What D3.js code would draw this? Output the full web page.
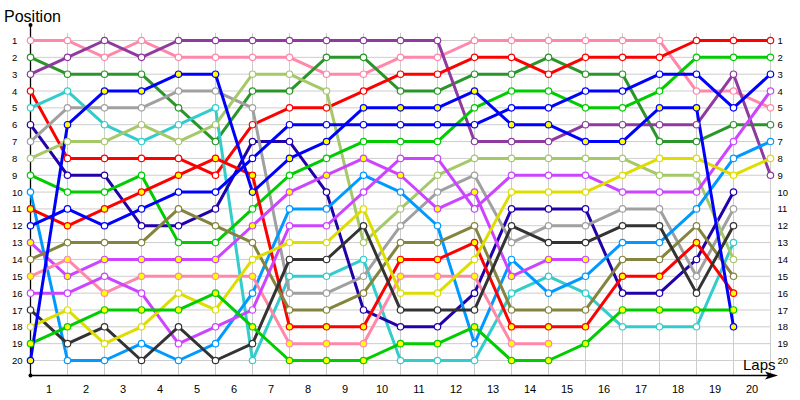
<!DOCTYPE html>
<html>
<head>
<meta charset="utf-8">
<script src="https://cdn.jsdelivr.net/npm/d3@7"></script>
<style>
  body { margin: 0; background: #fff; }
  svg { display: block; font-family: "Liberation Sans", Arial, sans-serif; }
</style>
</head>
<body>
<div id="chart"></div>
<script>
// positions lap by lap, index 0 = starting grid
const car01 = [1,1,2,1,2,2,2,2,3,3,2,2,1,1,1,1,1,1,4,4,5];
const car02 = [2,3,3,3,5,7,4,4,2,2,4,4,3,3,2,3,3,7,7,6,6];
const car03 = [3,2,1,2,1,1,1,1,1,1,1,1,7,7,7,6,6,6,6,3,9];
const car04 = [4,8,8,8,8,9,6,5,5,4,3,3,2,2,3,2,2,2,1,1,1];
const car05 = [5,4,6,7,6,5,20,15,15,14,20,20,20,16,15,16,18,18,18,13];
const car06 = [6,9,9,12,12,11,7,7,10,17,18,18,16,11,11,11,16,16,14,10];
const car07 = [7,5,5,5,4,4,5,16,16,15,12,10,9,13,12,12,11,11,15,11];
const car08 = [8,7,7,6,7,6,3,3,4,13,11,9,8,8,8,8,8,9,9,14];
const car09 = [9,10,10,9,13,13,11,9,8,7,7,7,5,4,4,5,5,4,2,2,2];
const car10 = [10,20,20,19,20,19,16,11,11,9,10,12,19,14,16,15,13,13,11,8,7];
const car11 = [11,12,11,10,9,8,9,18,18,18,14,14,13,18,18,18,15,15,13,16];
const car12 = [12,11,12,11,10,10,8,6,6,6,6,6,6,5,5,4,4,3,3,5,3];
const car13 = [13,15,14,14,14,14,12,10,9,8,9,11,10,15,14,14];
const car14 = [14,13,13,13,11,12,13,17,17,16,13,13,12,17,17,17,14,14,12,15];
const car15 = [15,14,16,15,15,15,15,19,19,19,15,15,15,19,19];
const car16 = [16,16,15,16,19,18,17,12,12,10,8,8,11,9,9,9,10,10,10,7,4];
const car17 = [17,19,18,20,18,20,19,14,14,12,17,17,17,12,13,13,12,12,16,12];
const car18 = [18,17,19,18,16,17,14,13,13,11,16,16,14,10,10,10,9,8,8,9,8];
const car19 = [19,18,17,17,17,16,18,20,20,20,19,19,18,20,20,19,17,17,17,17];
const car20 = [20,6,4,4,3,3,10,8,7,5,5,5,4,6,6,7,7,5,5,18];

const lapLabels = [1,2,3,4,5,6,7,8,9,10,11,12,13,14,15,16,17,18,19,20];
const positions = [1,2,3,4,5,6,7,8,9,10,11,12,13,14,15,16,17,18,19,20];

const cars = [car01, car02, car03, car04, car05, car06, car07, car08, car09, car10,
              car11, car12, car13, car14, car15, car16, car17, car18, car19, car20];

// team colours, second cars of some teams get yellow markers
const carColors = ["#ff88aa", "#2a962a", "#8e3a9e", "#ff0000", "#33cccc",
                   "#2200aa", "#a0a0a0", "#a5c869", "#00cc00", "#0099ff",
                   "#ff0000", "#0000ff", "#cc44ff", "#84843e", "#ff88aa",
                   "#cc44ff", "#333333", "#dddd00", "#00cc00", "#0000ff"];
const carMarker = ["#fff", "#fff", "#fff", "#fff", "#fff",
                   "#fff", "#fff", "#fff", "#fff", "#fff",
                   "#ffff00", "#fff", "#ffff00", "#fff", "#ffff00",
                   "#fff", "#fff", "#fff", "#ffff00", "#ffff00"];

const width = 800, height = 400;

const svg = d3.select("#chart")
    .append("svg")
    .attr("width", width)
    .attr("height", height);

const x = d3.scaleLinear().domain([0, 20]).range([30.5, 770.5]);
const y = d3.scaleLinear().domain([1, 20]).range([40.5, 360.5]);
const xBand = d3.scaleBand().domain(lapLabels).range([30.5, 770.5]);

// grid
svg.append("g")
    .selectAll("line")
    .data(positions)
    .join("line")
    .attr("x1", x(0)).attr("x2", x(20))
    .attr("y1", d => y(d)).attr("y2", d => y(d))
    .attr("stroke", "#cdcdcd");

svg.append("g")
    .selectAll("line")
    .data(lapLabels)
    .join("line")
    .attr("x1", d => x(d)).attr("x2", d => x(d))
    .attr("y1", 33).attr("y2", 375)
    .attr("stroke", "#cdcdcd");

// axis lines
svg.append("line")
    .attr("x1", 30.5).attr("x2", 30.5)
    .attr("y1", 25).attr("y2", 375.5)
    .attr("stroke", "#000").attr("stroke-width", 1.3);
svg.append("line")
    .attr("x1", 30.5).attr("x2", 768)
    .attr("y1", 375.5).attr("y2", 375.5)
    .attr("stroke", "#000").attr("stroke-width", 1.3);
svg.append("path")
    .attr("d", "M765,371.5 L778,375.5 L765,379.5 L768,375.5 Z")
    .attr("fill", "#000");
svg.append("circle").attr("cx", 30.5).attr("cy", 25).attr("r", 2).attr("fill", "#000");
svg.append("circle").attr("cx", 30.5).attr("cy", 375.5).attr("r", 2).attr("fill", "#000");

// tick labels
const leftAxis = svg.append("g")
    .attr("transform", "translate(30.5,0)")
    .call(d3.axisLeft(y).tickValues(positions).tickSize(0).tickFormat(d3.format("d")));
leftAxis.select(".domain").remove();
leftAxis.selectAll("text")
    .attr("x", -18.5)
    .attr("text-anchor", "start")
    .attr("font-size", 9.5)
    .attr("fill", "#000");

const rightAxis = svg.append("g")
    .attr("transform", "translate(770.5,0)")
    .call(d3.axisRight(y).tickValues(positions).tickSize(0).tickPadding(7).tickFormat(d3.format("d")));
rightAxis.select(".domain").remove();
rightAxis.selectAll("text")
    .attr("font-size", 9.5)
    .attr("fill", "#000");

const bottomAxis = svg.append("g")
    .attr("transform", "translate(0,375.5)")
    .call(d3.axisBottom(xBand).tickSize(0).tickPadding(9.5));
bottomAxis.select(".domain").remove();
bottomAxis.selectAll("text")
    .attr("font-size", 11)
    .attr("fill", "#000");

svg.append("text")
    .attr("x", 4).attr("y", 21.5)
    .attr("font-size", 16)
    .text("Position");

svg.append("text")
    .attr("x", 743).attr("y", 370)
    .attr("font-size", 15)
    .text("Laps");

// position lines
const line = d3.line()
    .x((d, i) => x(i))
    .y(d => y(d));

svg.append("g")
    .selectAll("path")
    .data(cars)
    .join("path")
    .attr("fill", "none")
    .attr("stroke", (d, i) => carColors[i])
    .attr("stroke-width", 3)
    .attr("stroke-linejoin", "round")
    .attr("d", line);

// lap markers
cars.forEach((car, ci) => {
    svg.append("g")
        .selectAll("circle")
        .data(car)
        .join("circle")
        .attr("cx", (d, i) => x(i))
        .attr("cy", d => y(d))
        .attr("r", 3.2)
        .attr("fill", carMarker[ci])
        .attr("stroke", carColors[ci])
        .attr("stroke-width", 1.2);
});
</script>
</body>
</html>
